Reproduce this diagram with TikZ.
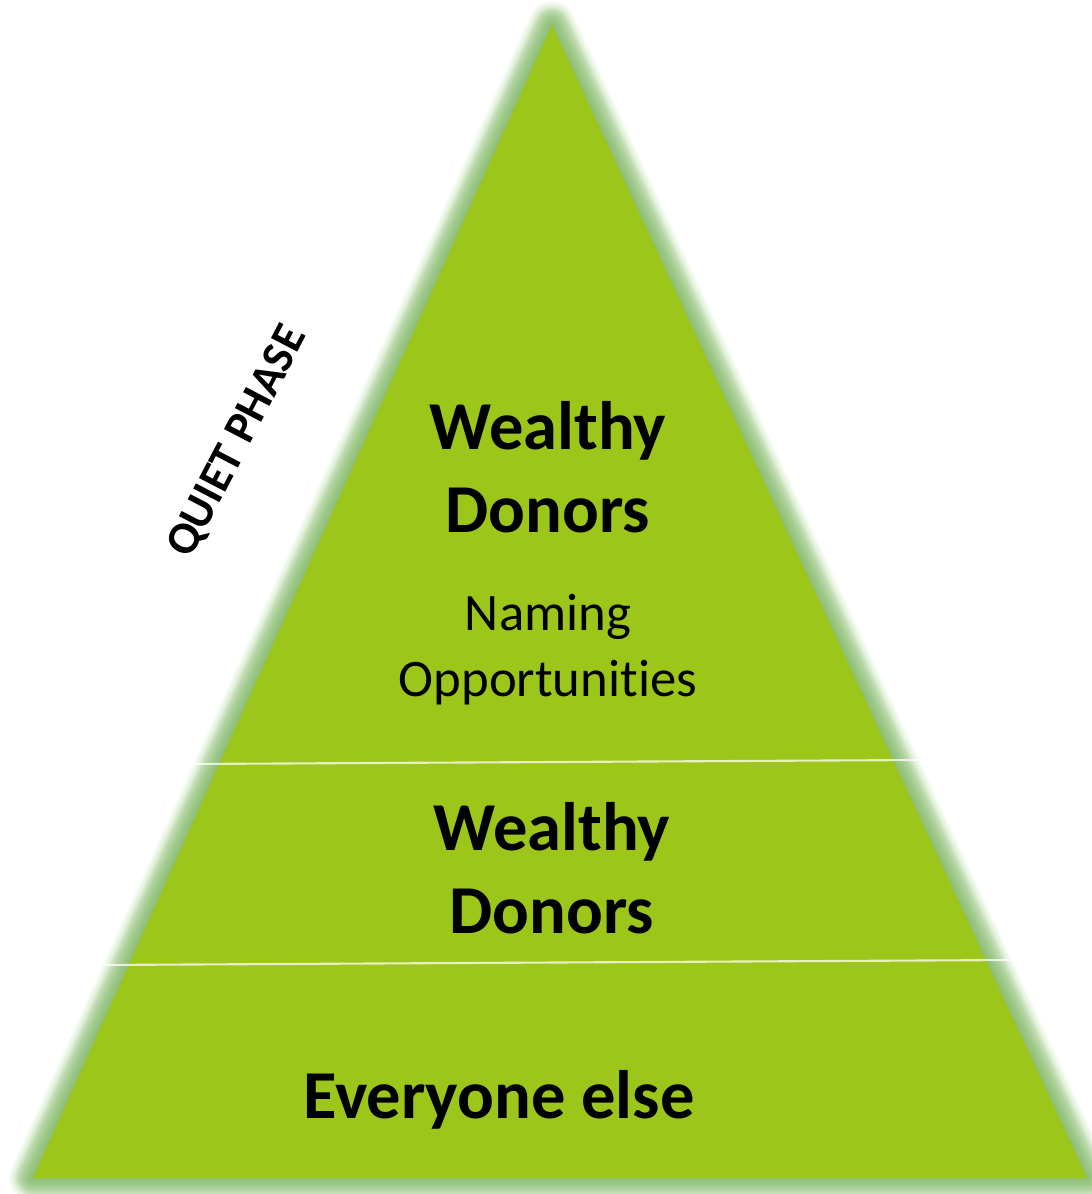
\documentclass[tikz,border=0pt]{standalone}
\usepackage{fontspec}
\setmainfont{Carlito}[Ligatures=NoCommon]
\usetikzlibrary{positioning}

\definecolor{pyrgreen}{HTML}{9CC61A}
\definecolor{glowgreen}{HTML}{7CC060}
\definecolor{shadegreen}{HTML}{7FA866}

\begin{document}
\begin{tikzpicture}[
  big/.style={font=\fontsize{19.5}{23.6}\selectfont\bfseries, align=center},
  small/.style={font=\fontsize{15}{18.8}\selectfont, align=center},
  divider/.style={white, opacity=0.75, line width=0.6pt},
  halo/.style={line width=#1, line join=round, opacity=0.07}
]
  \useasboundingbox (0,0) rectangle (10.92,11.94);

  \coordinate (apex) at (5.52,11.69);
  \coordinate (bl) at (0.33,0.16);
  \coordinate (br) at (10.87,0.16);

  % soft halo and the shadow under the base
  \foreach \w in {1,...,12}
    \draw[shadegreen, halo=\w*0.03cm, yshift=-0.08cm] (apex) -- (bl) -- (br) -- cycle;
  \foreach \w in {1,...,14}
    \draw[glowgreen, halo=\w*0.034cm] (apex) -- (bl) -- (br) -- cycle;

  \fill[pyrgreen] (apex) -- (bl) -- (br) -- cycle;

  % tier lines
  \coordinate (d1l) at (1.90,4.30);
  \coordinate (d1r) at (9.23,4.34);
  \coordinate (d2l) at (1.00,2.29);
  \coordinate (d2r) at (10.17,2.34);
  \draw[divider] (d1l) -- (d1r);
  \draw[divider] (d2l) -- (d2r);

  % labels
  \node[big] (top) at (5.48,7.27) {Wealthy\\Donors};
  \node[small] (naming) at (5.48,5.44) {Naming\\Opportunities};
  \node[big] (mid) at (5.52,3.26) {Wealthy\\Donors};
  \node[big] (base) at (4.99,0.94) {Everyone else};
  \node[font=\fontsize{13}{15}\selectfont\bfseries, rotate=62.5] (quiet) at (2.38,7.52) {QUIET PHASE};
\end{tikzpicture}
\end{document}
